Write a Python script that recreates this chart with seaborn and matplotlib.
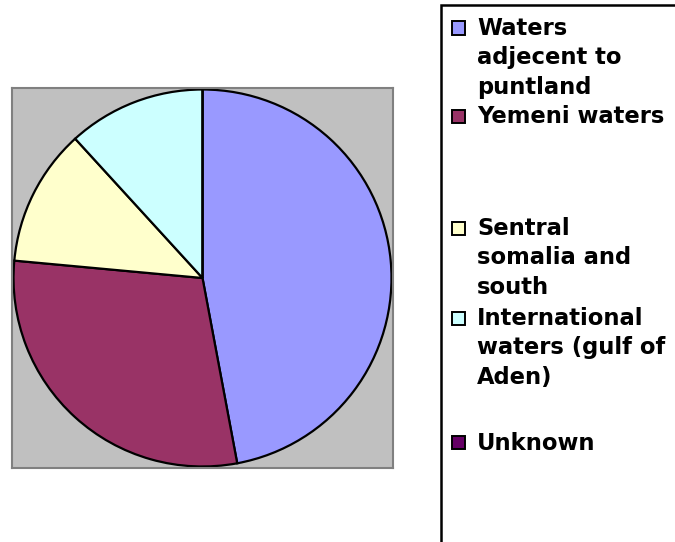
import matplotlib
matplotlib.use("Agg")
from matplotlib import pyplot as plt
from matplotlib.patches import Rectangle
import seaborn as sns

regions = ["Waters adjecent to puntland", "Yemeni waters", "Sentral somalia and south",
           "International waters (gulf of Aden)", "Unknown"]
attacks = [16, 10, 4, 4, 0]
legend_lines = [["Waters", "adjecent to", "puntland"],
                ["Yemeni waters"],
                ["Sentral", "somalia and", "south"],
                ["International", "waters (gulf of", "Aden)"],
                ["Unknown"]]
colors = sns.color_palette(["#9999FF", "#993366", "#FFFFCC", "#CCFFFF", "#660066"])

sns.set_style("white")
plt.rcParams["font.family"] = ["DejaVu Sans"]
plt.rcParams["text.color"] = "black"

W, H = 675, 542
fig = plt.figure(figsize=(W / 100, H / 100), dpi=100)

# plot area
ax = fig.add_axes([12 / W, 1 - 468 / H, 381 / W, 380 / H])
ax.pie(attacks, colors=colors, startangle=90, counterclock=False, frame=True,
       wedgeprops=dict(edgecolor="black", linewidth=1.6), radius=1.0)
ax.set_facecolor("#C0C0C0")
for s in ax.spines.values():
    s.set_visible(True)
    s.set_color("#808080")
    s.set_linewidth(1.5)
ax.set_xlim(-1.008, 1.008)
ax.set_ylim(-1.008, 1.008)
ax.set_aspect("auto")
ax.set_xticks([])
ax.set_yticks([])

# legend box (runs off the right and bottom edges)
fig.patches.append(Rectangle((441 / W, -0.05), 0.5, 1 - 5 / H + 0.05, transform=fig.transFigure,
                             facecolor="white", edgecolor="black", linewidth=1.8))

first_baselines = [35, 123, 235, 325, 450]
step = 29.3
for lines, col, y0 in zip(legend_lines, colors, first_baselines):
    fig.patches.append(Rectangle((452 / W, 1 - 34.5 / H + (35 - y0) / H), 13 / W, 13 / H,
                                 transform=fig.transFigure, facecolor=col,
                                 edgecolor="black", linewidth=1.4))
    for i, t in enumerate(lines):
        fig.text(477 / W, 1 - (y0 + i * step) / H, t, fontsize=16.3, fontweight="bold",
                 color="black", va="baseline", ha="left")

fig.savefig("out.png", dpi=100)
